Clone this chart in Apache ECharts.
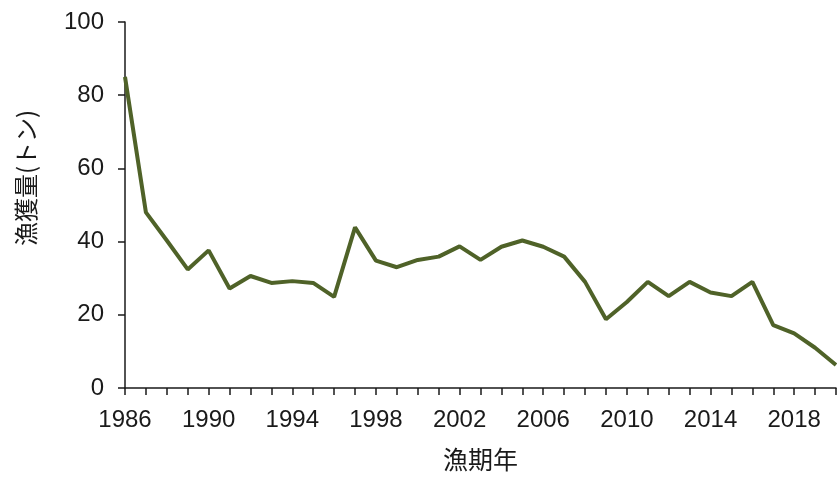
<!DOCTYPE html>
<html>
<head>
<meta charset="utf-8">
<script src="https://cdn.jsdelivr.net/npm/echarts@6/dist/echarts.min.js"></script>
<style>
  html, body { margin: 0; padding: 0; background: #fff; }
  #main { width: 837px; height: 477px; }
</style>
</head>
<body>
<div id="main"></div>
<script>
// 漁期年
var years = [];
for (var y = 1986; y <= 2020; y++) years.push(String(y));

// 漁獲量(トン)
var catchTons = [
  85, 48, 40.3, 32.4, 37.6, 27.2, 30.6, 28.7, 29.2, 28.7,
  24.9, 43.9, 34.8, 33, 35, 35.9, 38.7, 35, 38.6, 40.3,
  38.6, 35.9, 29, 18.8, 23.5, 29, 25.1, 29, 26.1, 25.1,
  29, 17.2, 14.9, 11, 6.3
];

var yTicks = [0, 20, 40, 60, 80, 100];

var font = '"Liberation Sans", Arial, "Noto Sans CJK JP", sans-serif';
var jpFont = '"Noto Sans CJK JP", sans-serif';
var chart = echarts.init(document.getElementById('main'));

chart.setOption({
  animation: false,
  grid: {
    left: 125,
    right: 1,
    top: 22,
    bottom: 87
  },
  xAxis: {
    type: 'category',
    data: years,
    boundaryGap: false,
    name: '漁期年',
    nameLocation: 'middle',
    nameGap: 59,
    nameTextStyle: { fontFamily: jpFont, fontSize: 25, color: '#1a1a1a' },
    axisLine: { lineStyle: { color: '#1a1a1a', width: 1.5 } },
    axisTick: { interval: 0, length: 7, lineStyle: { color: '#1a1a1a', width: 1.5 } },
    axisLabel: { interval: 3, fontFamily: font, fontSize: 24, color: '#1a1a1a', margin: 20 },
    splitLine: { show: false }
  },
  yAxis: {
    type: 'value',
    min: yTicks[0],
    max: yTicks[yTicks.length - 1],
    interval: 20,
    name: '漁獲量(トン)',
    nameLocation: 'middle',
    nameRotate: 90,
    nameGap: 87,
    // the title sits a bit above the middle of the axis
    nameTextStyle: { fontFamily: jpFont, fontSize: 24, color: '#1a1a1a', padding: [0, 0, 0, 54] },
    axisLine: { show: true, lineStyle: { color: '#1a1a1a', width: 1.5 } },
    axisTick: { show: true, length: 7, lineStyle: { color: '#1a1a1a', width: 1.5 } },
    axisLabel: { fontFamily: font, fontSize: 24, color: '#1a1a1a', margin: 21 },
    splitLine: { show: false }
  },
  series: [{
    type: 'line',
    data: catchTons,
    symbol: 'none',
    lineStyle: { color: '#4f6228', width: 4 },
    itemStyle: { color: '#4f6228' }
  }]
});
</script>
</body>
</html>
